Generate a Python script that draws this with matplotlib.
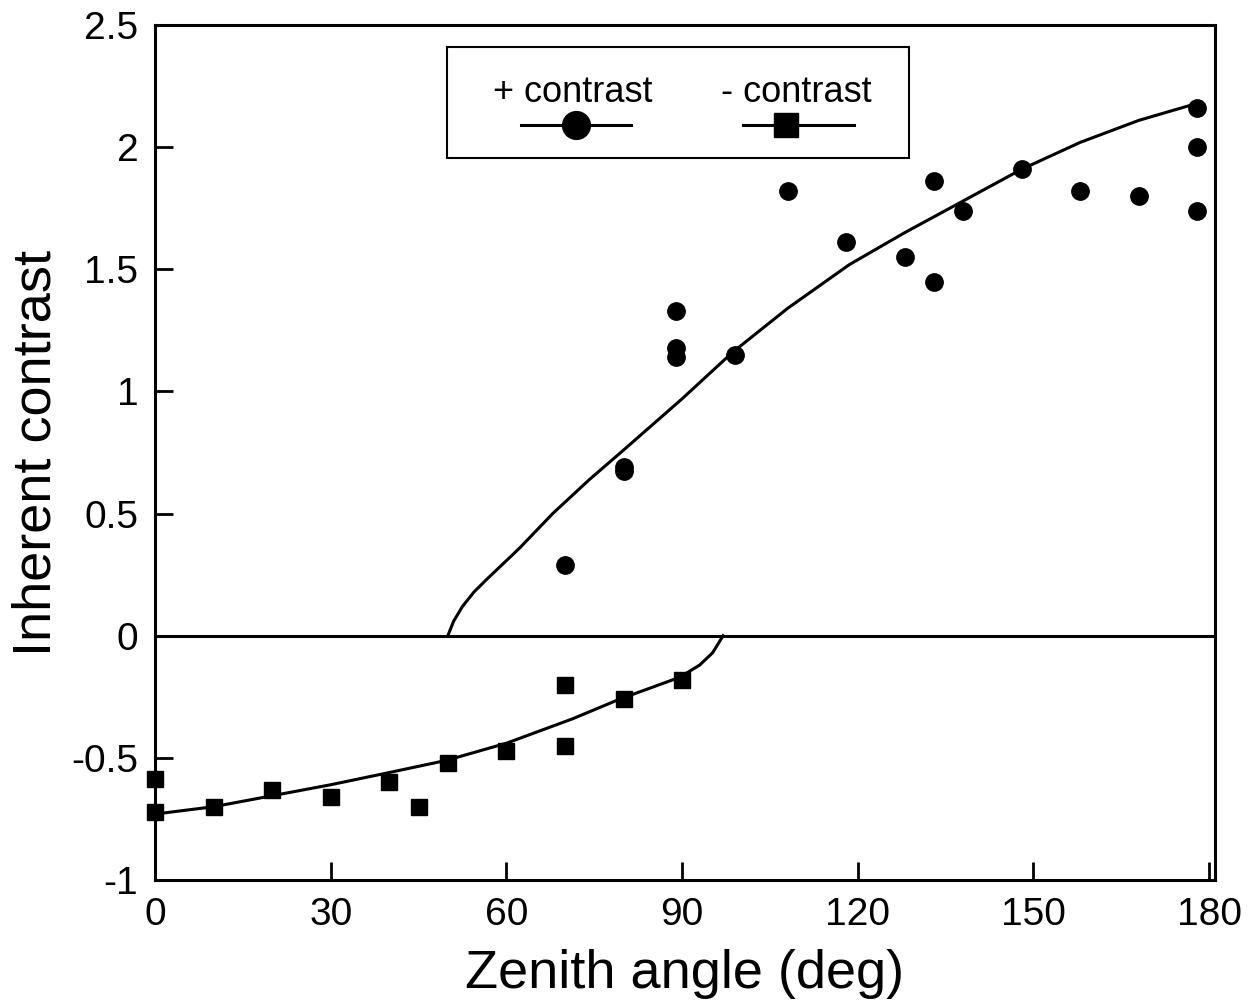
import matplotlib.pyplot as plt
from matplotlib.lines import Line2D
from matplotlib.patches import Rectangle

plt.rcParams['font.family'] = ['Liberation Sans', 'DejaVu Sans']

# --- Pontos medidos ---
pos_x = [70, 80, 80, 89, 89, 89, 99, 108, 118, 128, 133, 133, 138, 148, 158, 168, 178, 178, 178]
pos_y = [0.29, 0.69, 0.675, 1.33, 1.18, 1.14, 1.15, 1.82, 1.61, 1.55, 1.86, 1.45, 1.74, 1.91, 1.82, 1.80, 2.16, 2.00, 1.74]

neg_x = [0, 0, 10, 20, 30, 40, 45, 50, 60, 70, 70, 80, 90]
neg_y = [-0.585, -0.72, -0.70, -0.63, -0.66, -0.60, -0.70, -0.52, -0.47, -0.20, -0.45, -0.26, -0.18]

# --- Curvas ajustadas ---
fit_pos_x = [50, 51, 52.5, 54.5, 56.6, 62.3, 67.9, 74.2, 80, 90, 98.6, 108, 118.6, 128, 138, 148, 158, 168, 178]
fit_pos_y = [0.0, 0.06, 0.12, 0.18, 0.23, 0.36, 0.50, 0.64, 0.76, 0.97, 1.16, 1.34, 1.52, 1.65, 1.78, 1.91, 2.02, 2.11, 2.18]

fit_neg_x = [0, 10, 20, 30, 40, 49.8, 60, 71.3, 79.3, 89.6, 93, 95.2, 97]
fit_neg_y = [-0.73, -0.70, -0.655, -0.61, -0.56, -0.51, -0.44, -0.34, -0.26, -0.17, -0.12, -0.07, 0.0]

x_ticks = [0, 30, 60, 90, 120, 150, 180]
y_ticks = [-1, -0.5, 0, 0.5, 1, 1.5, 2, 2.5]
y_tick_labels = ['-1', '-0.5', '0', '0.5', '1', '1.5', '2', '2.5']

fig = plt.figure(figsize=(12.53, 10.07), dpi=100)
ax = fig.add_axes([0.1237, 0.1261, 0.8460, 0.8490])

ax.plot(fit_pos_x, fit_pos_y, color='k', lw=2.2)
ax.plot(fit_neg_x, fit_neg_y, color='k', lw=2.2)
ax.axhline(0, color='k', lw=2.2)

ax.plot(pos_x, pos_y, 'o', color='k', ms=12.5, clip_on=False)
ax.plot(neg_x, neg_y, 's', color='k', ms=11, clip_on=False)

ax.set_xlim(0, 181)
ax.set_ylim(-1, 2.5)
ax.set_xticks(x_ticks)
ax.set_yticks(y_ticks)
ax.set_yticklabels(y_tick_labels)
ax.tick_params(direction='in', length=13, width=2, labelsize=28, pad=12)
for s in ax.spines.values():
    s.set_linewidth(2.2)

ax.set_xlabel('Zenith angle (deg)', fontsize=39, labelpad=12)
ax.set_ylabel('Inherent contrast', fontsize=39, labelpad=7)

# --- Legenda desenhada à mão (texto acima do símbolo) ---
box = Rectangle((0.2755, 0.8444), 0.4358, 0.1296, transform=ax.transAxes,
                fill=False, edgecolor='k', lw=1.5, zorder=5)
ax.add_patch(box)
ax.text(0.3941, 0.9216, '+ contrast', transform=ax.transAxes, ha='center',
        va='center', fontsize=26)
ax.text(0.6047, 0.9216, '- contrast', transform=ax.transAxes, ha='center',
        va='center', fontsize=26)
ax.add_line(Line2D([0.345, 0.397, 0.449], [0.883, 0.883, 0.883], transform=ax.transAxes,
                   color='k', lw=2.2, marker='o', markevery=[1], ms=20))
ax.add_line(Line2D([0.555, 0.595, 0.659], [0.883, 0.883, 0.883], transform=ax.transAxes,
                   color='k', lw=2.2, marker='s', markevery=[1], ms=17))

fig.savefig('out.png', dpi=100)
